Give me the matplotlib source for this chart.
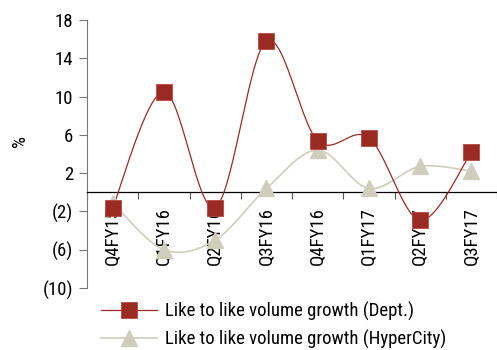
import numpy as np
import matplotlib.pyplot as plt
from matplotlib.lines import Line2D
from matplotlib.ticker import FuncFormatter

quarters = ['Q4FY15', 'Q1FY16', 'Q2FY16', 'Q3FY16', 'Q4FY16', 'Q1FY17', 'Q2FY17', 'Q3FY17']
dept = [-1.6, 10.5, -1.6, 15.8, 5.4, 5.7, -2.9, 4.2]
hyper = [-1.1, -6.0, -5.0, 0.4, 4.4, 0.4, 2.7, 2.2]
series_names = ['Like to like volume growth (Dept.)', 'Like to like volume growth (HyperCity)']

red = '#9B2A22'
beige = '#CFCDBB'

plt.rcParams['font.family'] = ['Roboto Condensed', 'DejaVu Sans']


def smooth(y, n=30):
    # catmull-rom style curve through the points, like excel smoothed lines
    y = np.asarray(y, float)
    x = np.arange(len(y), dtype=float)
    px = np.concatenate([[x[0]], x, [x[-1]]])
    py = np.concatenate([[y[0]], y, [y[-1]]])
    xs, ys = [], []
    for i in range(1, len(px) - 2):
        p0, p1, p2, p3 = [np.array([px[k], py[k]]) for k in range(i - 1, i + 3)]
        c1 = p1 + (p2 - p0) / 6
        c2 = p2 - (p3 - p1) / 6
        t = np.linspace(0, 1, n)[:, None]
        b = (1 - t) ** 3 * p1 + 3 * (1 - t) ** 2 * t * c1 + 3 * (1 - t) * t ** 2 * c2 + t ** 3 * p2
        xs.extend(b[:, 0])
        ys.extend(b[:, 1])
    return np.array(xs), np.array(ys)


fig = plt.figure(figsize=(4.97, 3.5), dpi=100)
ax = fig.add_axes([87 / 497, 1 - 288 / 350, 1 - 87 / 497, (288 - 20) / 350])

x = np.arange(len(quarters))
sx, sy = smooth(dept)
ax.plot(sx, sy, color=red, lw=0.9, zorder=3)
ax.plot(x, dept, 's', color=red, ms=11, mec='#B84A42', mew=0.6, zorder=4)
hx, hy = smooth(hyper)
ax.plot(hx, hy, color=beige, lw=1.2, zorder=2)
ax.plot(x, hyper, '^', color=beige, ms=12, zorder=3)

ax.set_xlim(-0.5, 7.5)
ax.set_ylim(-10, 18)
ax.set_yticks([-10, -6, -2, 2, 6, 10, 14, 18])
ax.yaxis.set_major_formatter(FuncFormatter(lambda v, p: f'({abs(v):.0f})' if v < 0 else f'{v:.0f}'))
ax.tick_params(axis='y', direction='out', length=6, color='#777777', labelsize=13.5, pad=4)
ax.set_ylabel('%', fontsize=13.5)
ax.yaxis.set_label_coords(-58 / 410, 0.55)

ax.spines['top'].set_visible(False)
ax.spines['right'].set_visible(False)
ax.spines['left'].set_color('#777777')
ax.spines['bottom'].set_position(('data', 0))
ax.spines['bottom'].set_color('black')
ax.spines['bottom'].set_linewidth(0.9)

ax.set_xticks(np.arange(-0.5, 8, 1))
ax.set_xticklabels([])
ax.tick_params(axis='x', which='major', direction='out', length=5, color='#555555')
ax.set_xticks(x, minor=True)
ax.set_xticklabels(quarters, minor=True, rotation=90, fontsize=13.5)
ax.tick_params(axis='x', which='minor', length=0, pad=11)

handles = [
    Line2D([], [], color=red, lw=0.9, marker='s', ms=11, mfc=red, mec='#B84A42', mew=0.6),
    Line2D([], [], color=beige, lw=1.2, marker='^', ms=12, mfc=beige, mec=beige),
]
fig.legend(handles, series_names, loc='upper left', bbox_to_anchor=(97 / 497, 1 - 298 / 350),
           frameon=False, fontsize=13.5, handlelength=3.0, handletextpad=0.45,
           labelspacing=0.45, borderaxespad=0.0, borderpad=0.2)

fig.savefig('out.png', dpi=100)
